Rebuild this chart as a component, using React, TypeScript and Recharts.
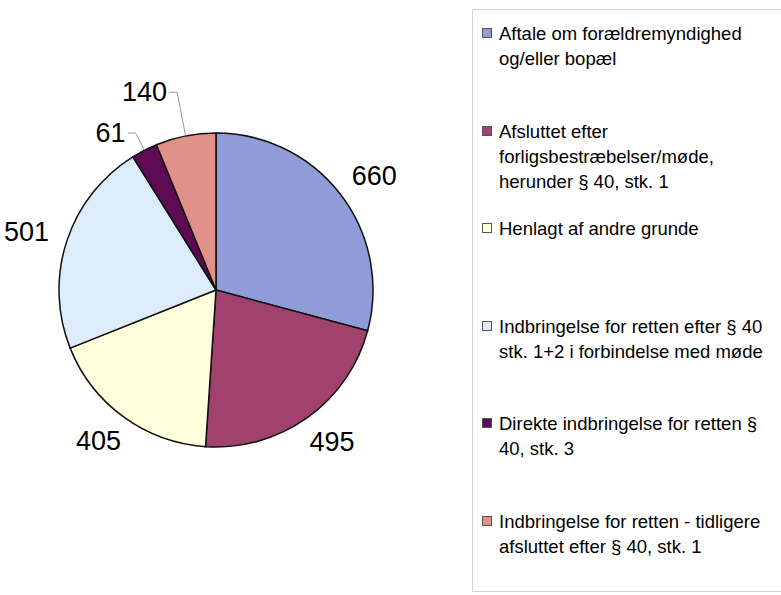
import React from "react";
import { PieChart, Pie, Cell } from "recharts";

const categories = [
  "Aftale om forældremyndighed\nog/eller bopæl",
  "Afsluttet efter\nforligsbestræbelser/møde,\nherunder § 40, stk. 1",
  "Henlagt af andre grunde",
  "Indbringelse for retten efter § 40\nstk. 1+2 i forbindelse med møde",
  "Direkte indbringelse for retten §\n40, stk. 3",
  "Indbringelse for retten - tidligere\nafsluttet efter § 40, stk. 1",
];

const values = [660, 495, 405, 501, 61, 140];

const colors = ["#8f9cd8", "#a0416e", "#ffffdc", "#ddecfb", "#5e0a52", "#e0918a"];

const data = categories.map((name, i) => ({ name, value: values[i] }));

const RAD = Math.PI / 180;
const FONT = "'Liberation Sans', Arial, sans-serif";

const renderLabel = (props: any) => {
  const { cx, cy, midAngle, outerRadius, value, percent } = props;
  const cosA = Math.cos(-midAngle * RAD);
  const sinA = Math.sin(-midAngle * RAD);

  // small slices get a leader line, like the original
  if (percent < 0.075) {
    const k = 720 * percent;
    const ex = cx + outerRadius * cosA;
    const ey = cy + outerRadius * sinA;
    const mx = cx + (outerRadius + k) * cosA;
    const my = cy + (outerRadius + k) * sinA;
    const hx = mx - 8;
    return (
      <g>
        <polyline
          points={`${ex},${ey} ${mx},${my} ${hx},${my}`}
          fill="none"
          stroke="#9a9a9a"
          strokeWidth={1}
        />
        <text
          x={hx - 2}
          y={my}
          textAnchor="end"
          dominantBaseline="central"
          fontSize={27}
          fontFamily={FONT}
          fill="#000"
        >
          {value}
        </text>
      </g>
    );
  }

  const r = outerRadius + 20;
  const px = cx + r * cosA;
  const py = cy + r * sinA;
  const w = String(value).length * 15;
  const h = 20;
  return (
    <text
      x={px + (cosA * w) / 2}
      y={py + (sinA * h) / 2}
      textAnchor="middle"
      dominantBaseline="central"
      fontSize={27}
      fontFamily={FONT}
      fill="#000"
    >
      {value}
    </text>
  );
};

export default function App() {
  return (
    <div
      style={{
        position: "absolute",
        left: 0,
        top: 0,
        width: 781,
        height: 595,
        background: "#fff",
        overflow: "hidden",
      }}
    >
      <PieChart
        width={781}
        height={595}
        margin={{ top: 0, right: 0, bottom: 0, left: 0 }}
        style={{ position: "absolute", left: 0, top: 0 }}
      >
        <Pie
          data={data}
          dataKey="value"
          nameKey="name"
          cx={216}
          cy={290}
          outerRadius={157}
          startAngle={90}
          endAngle={-270}
          stroke="#111"
          strokeWidth={1.5}
          label={renderLabel}
          labelLine={false}
          isAnimationActive={false}
        >
          {data.map((d, i) => (
            <Cell key={d.name} fill={colors[i]} />
          ))}
        </Pie>
      </PieChart>

      <div
        style={{
          position: "absolute",
          left: 472,
          top: 9,
          width: 340,
          height: 583,
          border: "1px solid #d4d4d4",
          boxSizing: "border-box",
          paddingTop: 11,
          fontFamily: FONT,
          fontSize: 18.5,
          color: "#000",
        }}
      >
        {categories.map((name, i) => (
          <div
            key={name}
            style={{ position: "relative", height: 97.5, paddingLeft: 26, lineHeight: "25px" }}
          >
            <span
              style={{
                position: "absolute",
                left: 9,
                top: 7,
                width: 10,
                height: 10,
                boxSizing: "border-box",
                border: "1.5px solid #555",
                background: colors[i],
              }}
            />
            <div style={{ whiteSpace: "pre-line" }}>{name}</div>
          </div>
        ))}
      </div>
    </div>
  );
}
